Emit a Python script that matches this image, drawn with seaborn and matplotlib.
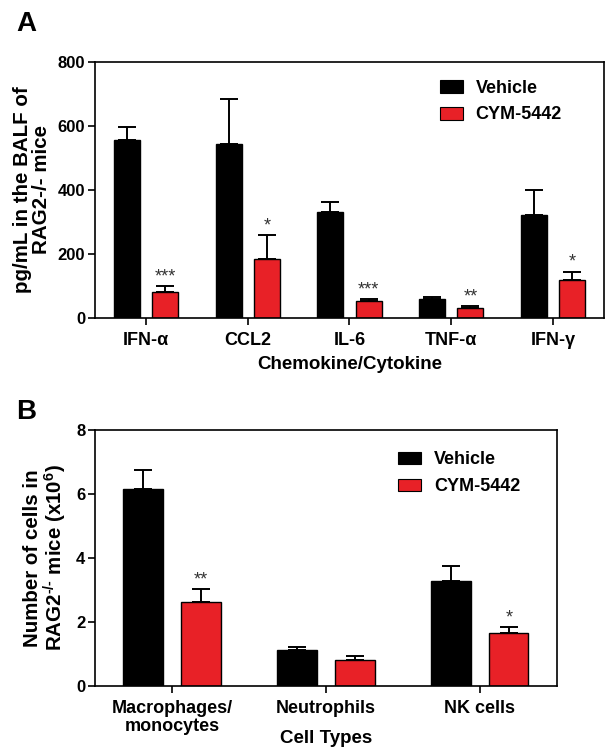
import numpy as np
import pandas as pd
import matplotlib
matplotlib.use("Agg")
import matplotlib.pyplot as plt
import seaborn as sns
from matplotlib.patches import Patch

# ---------------- data ----------------
groups = ["Vehicle", "CYM-5442"]

cyto_labels = ["IFN-\u03b1", "CCL2", "IL-6", "TNF-\u03b1", "IFN-\u03b3"]
cyto_vehicle = [555, 545, 332, 59, 322]
cyto_vehicle_err = [43, 140, 30, 6, 79]
cyto_cym = [82, 185, 53, 31, 118]
cyto_cym_err = [19, 75, 7, 5, 27]
cyto_stars = ["***", "*", "***", "**", "*"]

cell_labels = ["Macrophages/\nmonocytes", "Neutrophils", "NK cells"]
cell_vehicle = [6.16, 1.11, 3.28]
cell_vehicle_err = [0.59, 0.12, 0.48]
cell_cym = [2.64, 0.81, 1.67]
cell_cym_err = [0.38, 0.14, 0.18]
cell_stars = ["**", "", "*"]

colors = ["#000000", "#E82127"]

# ---------------- style ----------------
sns.set_theme(style="ticks")
plt.rcParams["font.family"] = ["Liberation Sans", "DejaVu Sans"]
plt.rcParams["font.weight"] = "bold"
plt.rcParams["text.color"] = "black"
plt.rcParams["axes.labelcolor"] = "black"
plt.rcParams["xtick.color"] = "black"
plt.rcParams["ytick.color"] = "black"
plt.rcParams["mathtext.fontset"] = "custom"
plt.rcParams["mathtext.rm"] = "Liberation Sans:bold"
plt.rcParams["mathtext.bf"] = "Liberation Sans:bold"
plt.rcParams["mathtext.default"] = "rm"

fig = plt.figure(figsize=(6.11, 7.55), dpi=100)
axA = fig.add_axes([0.1555, 0.5788, 0.833, 0.3391])
axB = fig.add_axes([0.1555, 0.0914, 0.7561, 0.3391])


def draw_panel(ax, labels, veh, veh_err, cym, cym_err, stars, ylim, yticks):
    df = pd.DataFrame({
        "cat": labels * 2,
        "grp": [groups[0]] * len(labels) + [groups[1]] * len(labels),
        "val": list(veh) + list(cym),
    })
    sns.barplot(data=df, x="cat", y="val", hue="grp", hue_order=groups,
                order=labels, palette=colors, width=0.75, gap=0.32,
                errorbar=None, edgecolor="black", linewidth=1.0,
                saturation=1, legend=False, ax=ax)
    errs = [veh_err, cym_err]
    for ci, cont in enumerate(ax.containers[:2]):
        xs = [b.get_x() + b.get_width() / 2 for b in cont]
        ys = [b.get_height() for b in cont]
        e = errs[ci]
        ax.errorbar(xs, ys, yerr=[np.zeros(len(e)), e], fmt="none",
                    ecolor="black", elinewidth=1.4, capsize=6.8,
                    capthick=1.4, zorder=0.5)
        if ci == 1:
            for x, y, ee, s in zip(xs, ys, e, stars):
                if s:
                    ax.annotate(s, xy=(x, y + ee), xytext=(0, 0.5),
                                textcoords="offset points", ha="center",
                                va="bottom", fontsize=13, fontweight="normal",
                                color="#333333")
    ax.set_ylim(*ylim)
    ax.set_yticks(yticks)
    ax.set_xlim(-0.5, len(labels) - 0.5)
    for sp in ax.spines.values():
        sp.set_visible(True)
        sp.set_linewidth(1.2)
        sp.set_color("black")
    ax.tick_params(axis="both", direction="out", length=5, width=1.2,
                   color="black", labelcolor="black")
    ax.tick_params(axis="y", labelsize=12, pad=2)
    ax.tick_params(axis="x", labelsize=13, pad=5)
    handles = [Patch(facecolor=c, edgecolor="black", linewidth=0.8)
               for c in colors]
    return handles


leg_kw = dict(loc="upper left", frameon=False, handlelength=1.3,
              handleheight=0.72, handletextpad=0.7, labelspacing=0.55,
              prop={"weight": "bold", "size": 13})

hA = draw_panel(axA, cyto_labels, cyto_vehicle, cyto_vehicle_err, cyto_cym,
                cyto_cym_err, cyto_stars, (0, 800), [0, 200, 400, 600, 800])
axA.set_xlabel("Chemokine/Cytokine", fontsize=13.5, fontweight="bold",
               labelpad=5)
axA.set_ylabel("pg/mL in the BALF of\nRAG2-/- mice", fontsize=14.8,
               fontweight="bold", labelpad=5, linespacing=1.0)
axA.legend(hA, groups, bbox_to_anchor=(0.645, 0.995), **leg_kw)

hB = draw_panel(axB, cell_labels, cell_vehicle, cell_vehicle_err, cell_cym,
                cell_cym_err, cell_stars, (0, 8), [0, 2, 4, 6, 8])
axB.set_xlabel("Cell Types", fontsize=13.5, fontweight="bold", labelpad=-3)
axB.set_ylabel("Number of cells in\nRAG2$^{\\text{-/-}}$ mice (x10$^{6}$)",
               fontsize=14.8, fontweight="bold", labelpad=5, linespacing=1.0)
axB.legend(hB, groups, bbox_to_anchor=(0.62, 0.98), **leg_kw)
for t in axB.get_xticklabels():
    t.set_linespacing(1.05)

fig.text(0.027, 0.985, "A", fontsize=20, fontweight="bold", va="top",
         ha="left")
fig.text(0.027, 0.472, "B", fontsize=20, fontweight="bold", va="top",
         ha="left")

fig.savefig("out.png", dpi=100)
